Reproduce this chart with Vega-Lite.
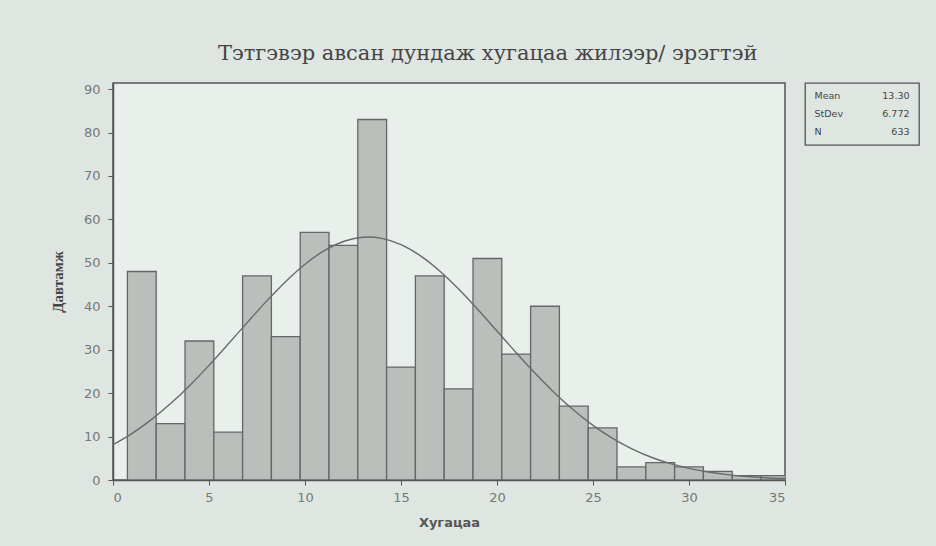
{
  "$schema": "https://vega.github.io/schema/vega-lite/v6.json",
  "background": "#dfe6e1",
  "padding": {"left": 49, "top": 43, "right": 17, "bottom": 16},
  "title": {"text": "Тэтгэвэр авсан дундаж хугацаа жилээр/ эрэгтэй", "font": "DejaVu Serif", "fontSize": 21, "fontWeight": "normal", "color": "#454545", "anchor": "middle", "offset": 18, "dx": 3},
  "datasets": {
    "bins": [
      {"start": 0.75, "end": 2.25, "count": 48},
      {"start": 2.25, "end": 3.75, "count": 13},
      {"start": 3.75, "end": 5.25, "count": 32},
      {"start": 5.25, "end": 6.75, "count": 11},
      {"start": 6.75, "end": 8.25, "count": 47},
      {"start": 8.25, "end": 9.75, "count": 33},
      {"start": 9.75, "end": 11.25, "count": 57},
      {"start": 11.25, "end": 12.75, "count": 54},
      {"start": 12.75, "end": 14.25, "count": 83},
      {"start": 14.25, "end": 15.75, "count": 26},
      {"start": 15.75, "end": 17.25, "count": 47},
      {"start": 17.25, "end": 18.75, "count": 21},
      {"start": 18.75, "end": 20.25, "count": 51},
      {"start": 20.25, "end": 21.75, "count": 29},
      {"start": 21.75, "end": 23.25, "count": 40},
      {"start": 23.25, "end": 24.75, "count": 17},
      {"start": 24.75, "end": 26.25, "count": 12},
      {"start": 26.25, "end": 27.75, "count": 3},
      {"start": 27.75, "end": 29.25, "count": 4},
      {"start": 29.25, "end": 30.75, "count": 3},
      {"start": 30.75, "end": 32.25, "count": 2},
      {"start": 32.25, "end": 33.75, "count": 1},
      {"start": 33.75, "end": 35.25, "count": 1}
    ],
    "fit": [
      {"x": 0, "fit": 8.13}, {"x": 1, "fit": 10.75}, {"x": 2, "fit": 13.90}, {"x": 3, "fit": 17.59},
      {"x": 4, "fit": 21.78}, {"x": 5, "fit": 26.39}, {"x": 6, "fit": 31.29}, {"x": 7, "fit": 36.29},
      {"x": 8, "fit": 41.18}, {"x": 9, "fit": 45.72}, {"x": 10, "fit": 49.67}, {"x": 11, "fit": 52.80},
      {"x": 12, "fit": 54.91}, {"x": 13, "fit": 55.88}, {"x": 13.3, "fit": 55.94}, {"x": 14, "fit": 55.64},
      {"x": 15, "fit": 54.20}, {"x": 16, "fit": 51.66}, {"x": 17, "fit": 48.18}, {"x": 18, "fit": 43.96},
      {"x": 19, "fit": 39.25}, {"x": 20, "fit": 34.29}, {"x": 21, "fit": 29.31}, {"x": 22, "fit": 24.51},
      {"x": 23, "fit": 20.05}, {"x": 24, "fit": 16.05}, {"x": 25, "fit": 12.58}, {"x": 26, "fit": 9.64},
      {"x": 27, "fit": 7.23}, {"x": 28, "fit": 5.30}, {"x": 29, "fit": 3.81}, {"x": 30, "fit": 2.67},
      {"x": 31, "fit": 1.84}, {"x": 32, "fit": 1.24}, {"x": 33, "fit": 0.81}, {"x": 34, "fit": 0.52},
      {"x": 35, "fit": 0.33}
    ],
    "stats": [
      {"stat": "Mean", "val": "13.30"},
      {"stat": "StDev", "val": "6.772"},
      {"stat": "N", "val": "633"}
    ]
  },
  "spacing": 20,
  "bounds": "flush",
  "hconcat": [
    {
      "width": 672,
      "height": 397,
      "view": {"fill": "#e9f0ec", "stroke": "#555555", "strokeWidth": 1.5},
      "layer": [
        {
          "data": {"name": "bins"},
          "mark": {"type": "bar", "fill": "#babfbb", "stroke": "#666666", "strokeWidth": 1.3, "clip": true},
          "encoding": {
            "x": {"field": "start", "type": "quantitative", "title": "Хугацаа",
              "scale": {"domain": [0, 35], "nice": false, "zero": false},
              "axis": {"values": [0, 5, 10, 15, 20, 25, 30, 35], "grid": false, "domainColor": "#555555", "domainWidth": 1.5, "tickColor": "#555555", "tickSize": 5, "labelColor": "#777777", "labelFont": "DejaVu Sans", "labelFontSize": 13, "labelPadding": 6, "titleFont": "DejaVu Sans", "titleFontSize": 13, "titleFontWeight": "bold", "titleColor": "#555555", "titlePadding": 12}},
            "x2": {"field": "end"},
            "y": {"field": "count", "type": "quantitative", "title": "Давтамж",
              "scale": {"domain": [0, 91.4], "nice": false},
              "axis": {"values": [0, 10, 20, 30, 40, 50, 60, 70, 80, 90], "grid": false, "domainColor": "#555555", "domainWidth": 1.5, "tickColor": "#555555", "tickSize": 5, "labelColor": "#777777", "labelFont": "DejaVu Sans", "labelFontSize": 13, "labelPadding": 8, "titleFont": "Liberation Serif", "titleFontSize": 15, "titleFontWeight": "bold", "titleColor": "#444444", "titlePadding": 18}},
            "y2": {"datum": 0}
          }
        },
        {
          "data": {"name": "fit"},
          "mark": {"type": "line", "color": "#686b69", "strokeWidth": 1.4, "interpolate": "monotone", "clip": true},
          "encoding": {
            "x": {"field": "x", "type": "quantitative"},
            "y": {"field": "fit", "type": "quantitative"}
          }
        }
      ]
    },
    {
      "width": 114,
      "height": 62,
      "view": {"stroke": "#555555", "strokeWidth": 1.3, "fill": null},
      "data": {"name": "stats"},
      "layer": [
        {
          "mark": {"type": "text", "align": "left", "baseline": "middle", "font": "DejaVu Sans", "fontSize": 9.5, "color": "#444444"},
          "encoding": {
            "x": {"datum": "label", "type": "nominal", "bandPosition": 0, "axis": null, "scale": {"type": "band", "domain": ["label", "value"], "paddingInner": 0, "paddingOuter": 0.2}},
            "y": {"field": "stat", "type": "nominal", "sort": ["Mean", "StDev", "N"], "axis": null, "scale": {"type": "point", "padding": 0.7}},
            "text": {"field": "stat"}
          }
        },
        {
          "mark": {"type": "text", "align": "right", "baseline": "middle", "font": "DejaVu Sans", "fontSize": 9.5, "color": "#444444"},
          "encoding": {
            "x": {"datum": "value", "type": "nominal", "bandPosition": 1, "axis": null},
            "y": {"field": "stat", "type": "nominal", "sort": ["Mean", "StDev", "N"], "axis": null},
            "text": {"field": "val"}
          }
        }
      ]
    }
  ]
}
